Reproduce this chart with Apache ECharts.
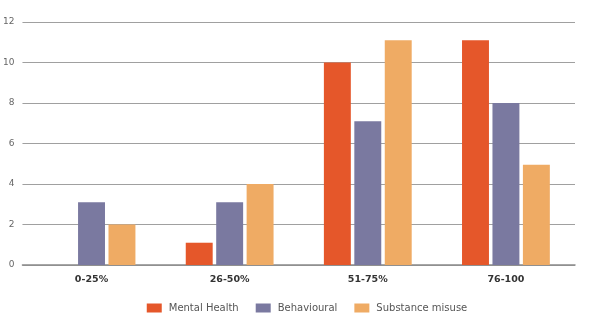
<!DOCTYPE html>
<html>
<head>
<meta charset="utf-8">
<script src="https://cdn.jsdelivr.net/npm/echarts@6/dist/echarts.min.js"></script>
<style>
  html, body { margin: 0; padding: 0; background: #fff; }
  #chart { width: 614px; height: 331px; }
</style>
</head>
<body>
<div id="chart"></div>
<script>
// Score bands along the x axis
const categories = ['0-25%', '26-50%', '51-75%', '76-100'];
// Counts per band for each need type
const mentalHealth = [0, 1.1, 10, 11.1];
const behavioural = [3.1, 3.1, 7.1, 8];
const substanceMisuse = [2, 4, 11.1, 4.95];

const colors = ['#E5572A', '#7A79A0', '#EFAB64'];
const font = 'DejaVu Sans';

const chart = echarts.init(document.getElementById('chart'), null, { renderer: 'canvas' });

function barSeries(name, data) {
  return {
    name: name,
    type: 'bar',
    data: data,
    barWidth: '19.5%',
    barGap: '13%'
  };
}

chart.setOption({
  animation: false,
  color: colors,
  textStyle: { fontFamily: font },
  grid: { left: 21, right: 39, top: 22, bottom: 66, containLabel: false },
  legend: {
    bottom: 13,
    left: 'center',
    itemWidth: 15,
    itemHeight: 9,
    itemGap: 17,
    icon: 'rect',
    textStyle: { fontFamily: font, fontSize: 10, color: '#555', padding: [0, 0, 0, 2] },
    data: ['Mental Health', 'Behavioural', 'Substance misuse']
  },
  xAxis: {
    type: 'category',
    data: categories,
    axisTick: { show: false },
    axisLine: { lineStyle: { color: '#8a8a8a', width: 1.5 } },
    axisLabel: { fontFamily: font, fontSize: 9.5, fontWeight: 'bold', color: '#333', margin: 10 }
  },
  yAxis: {
    type: 'value',
    min: 0,
    max: 12,
    interval: 2,
    axisLine: { show: false },
    axisTick: { show: false },
    axisLabel: { fontFamily: font, fontSize: 9, color: '#666', margin: 8, align: 'right' },
    splitLine: { lineStyle: { color: '#a0a0a0', width: 1.2 } }
  },
  series: [
    barSeries('Mental Health', mentalHealth),
    barSeries('Behavioural', behavioural),
    barSeries('Substance misuse', substanceMisuse)
  ]
});
</script>
</body>
</html>
